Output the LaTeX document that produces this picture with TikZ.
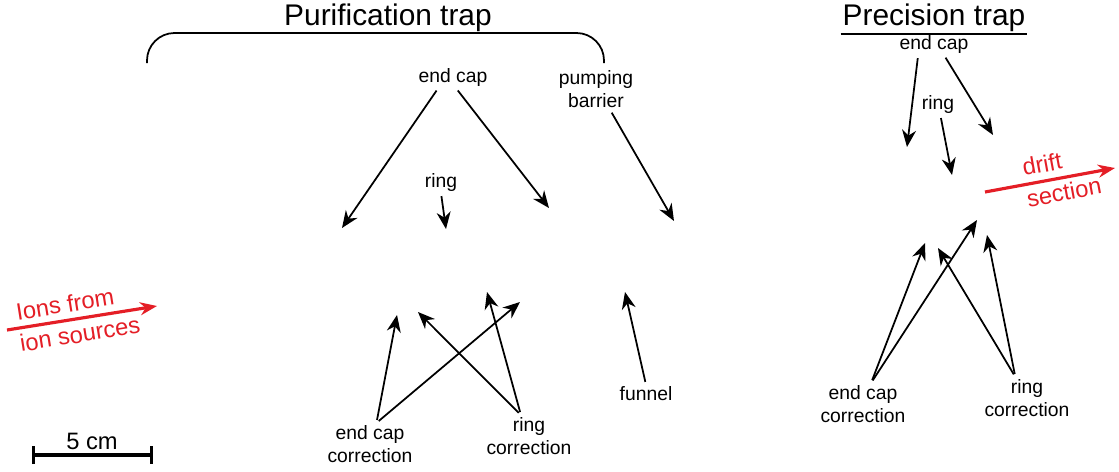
\documentclass[tikz,border=0pt]{standalone}
\usepackage{fontspec}
\setmainfont{Liberation Sans}
\usetikzlibrary{arrows.meta}

\definecolor{beamred}{RGB}{228,30,38}

\tikzset{
  lbl/.style={inner sep=1pt, align=center, font=\fontsize{11}{13.5}\selectfont},
  title/.style={inner sep=1pt, font=\fontsize{17}{20}\selectfont},
  elec/.style={-{Stealth[length=0.34cm,width=0.28cm]}, line width=1pt, shorten <=0.06cm},
  beam/.style={-{Stealth[length=0.34cm,width=0.26cm]}, line width=1.8pt, draw=beamred},
  beamlbl/.style={inner sep=1pt, text=beamred, font=\fontsize{13.5}{16}\selectfont},
}

\begin{document}
\begin{tikzpicture}[x=0.02cm, y=-0.02cm]
  \useasboundingbox (0,0) rectangle (1119,471);

  % tips of the electrode arrows
  \coordinate (pEcL)  at (342,228);
  \coordinate (pEcR)  at (549,208);
  \coordinate (pRing) at (446,229);
  \coordinate (pPump) at (674,221);
  \coordinate (pEccA) at (397,315);
  \coordinate (pEccB) at (520,302);
  \coordinate (pRcA)  at (418,312);
  \coordinate (pRcB)  at (487,292);
  \coordinate (pFun)  at (625,292);
  \coordinate (qEcL)  at (907,147);
  \coordinate (qEcR)  at (993,135);
  \coordinate (qRing) at (952,175);
  \coordinate (qEccA) at (925,243);
  \coordinate (qEccB) at (977,220);
  \coordinate (qRcA)  at (938,248);
  \coordinate (qRcB)  at (987,235);

  % purification trap
  \draw (388, 18) node [title] (pTitle) {Purification trap}
        (453, 77) node [lbl] (pEndcap) {end cap}
        (441,182) node [lbl] (pRinglbl) {ring}
        (596, 89) node [lbl] (pBarrier) {pumping\\ barrier}
        (370,444) node [lbl] (pEcc) {end cap\\ correction}
        (529,436) node [lbl] (pRc) {ring\\ correction}
        (646,394) node [lbl] (pFunnel) {funnel}
    (pEndcap.217) edge [elec] (pEcL)
    (pEndcap.285) edge [elec] (pEcR)
    (pRinglbl.south) edge [elec] (pRing)
    (pBarrier.304) edge [elec] (pPump)
    (pEcc.73) edge [elec] (pEccA)
              edge [elec] (pEccB)
    (pRc.111) edge [elec] (pRcA)
              edge [elec] (pRcB)
    (pFunnel.north) edge [elec] (pFun);
  \draw [line width=1pt, rounded corners=0.55cm] (147,63) |- (376,33) -| (604,63);

  % precision trap
  \draw (934, 18) node [title] (qTitle) {Precision trap}
        (934, 44) node [lbl] (qEndcap) {end cap}
        (938,104) node [lbl] (qRinglbl) {ring}
        (863,404) node [lbl] (qEcc) {end cap\\ correction}
        (1027,398) node [lbl] (qRc) {ring\\ correction}
    (qEndcap.215) edge [elec] (qEcL)
    (qEndcap.312) edge [elec] (qEcR)
    (qRinglbl.282) edge [elec] (qRing)
    (qEcc.69) edge [elec] (qEccA)
              edge [elec] (qEccB)
    (qRc.119) edge [elec] (qRcA)
              edge [elec] (qRcB);
  \draw [line width=1pt] (qTitle.south west) -- (qTitle.south east);

  % ion beam in and out
  \coordinate (inStart)  at (7,330);
  \coordinate (inEnd)    at (157,306);
  \coordinate (outStart) at (985,192);
  \coordinate (outEnd)   at (1115,168);
  \draw [beam] (inStart) -- (inEnd);
  \draw [beam] (outStart) -- (outEnd);
  \node [beamlbl, rotate=9]    (ionsA)  at (65,304)   {Ions from};
  \node [beamlbl, rotate=9]    (ionsB)  at (80,334)   {ion sources};
  \node [beamlbl, rotate=10.5] (driftA) at (1042,164) {drift};
  \node [beamlbl, rotate=10.5] (driftB) at (1064,192) {section};

  % scale bar
  \coordinate (barL) at (32,455);
  \coordinate (barR) at (153,455);
  \draw [{Bar[width=0.36cm]}-{Bar[width=0.36cm]}, line width=1.8pt] (barL) -- (barR);
  \node [beamlbl, text=black] (barlbl) at (92,441) {5 cm};
\end{tikzpicture}
\end{document}
